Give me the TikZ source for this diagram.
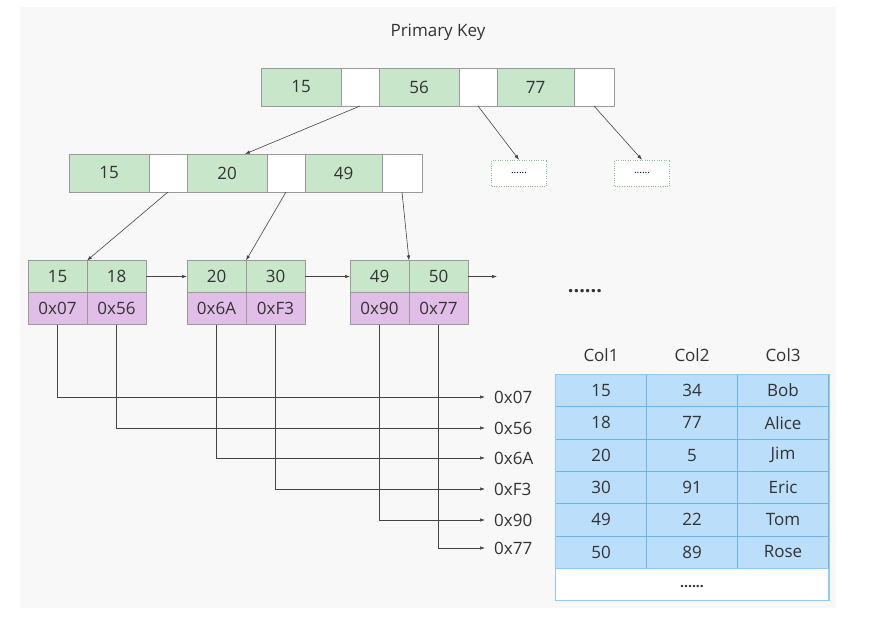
\documentclass[tikz,border=0pt]{standalone}
\usepackage{fontspec}
\setmainfont{Open Sans}
\usetikzlibrary{positioning}
\usetikzlibrary{arrows.meta}
\definecolor{bgray}{HTML}{F8F8F8}
\definecolor{keygreen}{HTML}{C8E6C9}
\definecolor{addrpink}{HTML}{E1BEE7}
\definecolor{rowblue}{HTML}{BBDEFB}
\definecolor{rowline}{HTML}{6FB3EC}
\definecolor{tabline}{HTML}{90CAF9}
\definecolor{cellgray}{HTML}{9A9A9A}
\definecolor{moregreen}{HTML}{8DBE8D}
\definecolor{linegray}{HTML}{444444}
\definecolor{txt}{HTML}{333333}
\tikzset{
  cell/.style={draw=cellgray, inner sep=0pt, outer sep=0pt, text=txt, minimum height=38pt},
  keycell/.style={cell, fill=keygreen, minimum width=80pt},
  ptrcell/.style={cell, fill=white, minimum width=38pt},
  leafkey/.style={cell, fill=keygreen, minimum width=59pt, minimum height=32pt},
  leafaddr/.style={cell, fill=addrpink, minimum width=59pt, minimum height=32pt},
  morebox/.style={draw=moregreen, dotted, fill=white, minimum width=55pt, minimum height=26pt, font=\fontsize{10}{11}\selectfont},
  rowcell/.style={draw=rowline, fill=rowblue, inner sep=0pt, outer sep=0pt, text=txt, minimum width=91pt, minimum height=32.3pt},
  link/.style={draw=linegray, line width=0.6pt, -{Latex[length=5pt,width=3.5pt]}},
  reflink/.style={link, shorten >=9pt},
  reflabel/.style={anchor=west, inner sep=0pt, text=txt},
}
\begin{document}
\begin{tikzpicture}[x=1pt,y=-1pt]\fontsize{17}{20}\selectfont
  \useasboundingbox (0,0) rectangle (888,621);
  \fill[bgray] (20,7) rectangle (836,608);
  \node[text=txt] (title) at (438,32) {Primary Key};
  \node[keycell] (root15) at (301,87) {15};
  \node[ptrcell, right=0pt of root15] (root15p) {};
  \node[keycell, right=0pt of root15p] (root56) {56};
  \node[ptrcell, right=0pt of root56] (root56p) {};
  \node[keycell, minimum width=77pt, right=0pt of root56p] (root77) {77};
  \node[ptrcell, minimum width=40pt, right=0pt of root77] (root77p) {};
  \node[keycell] (mid15) at (109,173) {15};
  \node[ptrcell, right=0pt of mid15] (mid15p) {};
  \node[keycell, right=0pt of mid15p] (mid20) {20};
  \node[ptrcell, right=0pt of mid20] (mid20p) {};
  \node[keycell, minimum width=77pt, right=0pt of mid20p] (mid49) {49};
  \node[ptrcell, minimum width=40pt, right=0pt of mid49] (mid49p) {};
  \node[morebox] (more1) at (519,173) {......};
  \node[morebox] (more2) at (642,173) {......};
  \node[leafkey] (leaf15) at (57.5,276.5) {15};
  \node[leafkey, right=0pt of leaf15] (leaf18) {18};
  \node[leafaddr, below=0pt of leaf15] (addr07) {0x07};
  \node[leafaddr, below=0pt of leaf18] (addr56) {0x56};
  \node[leafkey] (leaf20) at (216.5,276.5) {20};
  \node[leafkey, right=0pt of leaf20] (leaf30) {30};
  \node[leafaddr, below=0pt of leaf20] (addr6A) {0x6A};
  \node[leafaddr, below=0pt of leaf30] (addrF3) {0xF3};
  \node[leafkey] (leaf49) at (379.5,276.5) {49};
  \node[leafkey, right=0pt of leaf49] (leaf50) {50};
  \node[leafaddr, below=0pt of leaf49] (addr90) {0x90};
  \node[leafaddr, below=0pt of leaf50] (addr77) {0x77};
  \coordinate (nextleaf) at (497,276.5);
  \node[text=txt, font=\fontsize{20}{22}\selectfont] (moreleaf) at (585,291) {\textbf{......}};
  \draw[link] (root15p.south) -- ([xshift=18pt]mid20.north);
  \draw[link] (root56p.south) -- (more1.north);
  \draw[link] (root77p.south) -- (more2.north);
  \draw[link] (mid15p.south) -- (leaf15.north east);
  \draw[link] (mid20p.south) -- (leaf20.north east);
  \draw[link] (mid49p.south) -- (leaf49.north east);
  \draw[link] (leaf18.east) -- (leaf20.west);
  \draw[link] (leaf30.east) -- (leaf49.west);
  \draw[link] (leaf50.east) -- (nextleaf);
  \node[reflabel] (ref07) at (494,397) {0x07};
  \node[reflabel] (ref56) at (494,428) {0x56};
  \node[reflabel] (ref6A) at (494,458) {0x6A};
  \node[reflabel] (refF3) at (494,489) {0xF3};
  \node[reflabel] (ref90) at (494,520) {0x90};
  \node[reflabel] (ref77) at (494,548) {0x77};
  \draw[reflink] (addr07.south) |- (ref07.west);
  \draw[reflink] (addr56.south) |- (ref56.west);
  \draw[reflink] (addr6A.south) |- (ref6A.west);
  \draw[reflink] (addrF3.south) |- (refF3.west);
  \draw[reflink] (addr90.south) |- (ref90.west);
  \draw[reflink] (addr77.south) |- (ref77.west);
  \node[text=txt] (col1) at (601,355) {Col1};
  \node[text=txt] (col2) at (692,355) {Col2};
  \node[text=txt] (col3) at (783,355) {Col3};
  \foreach \a/\b/\c [count=\i] in {15/34/Bob, 18/77/Alice, 20/5/Jim, 30/91/Eric, 49/22/Tom, 50/89/Rose}{
    \node[rowcell] (row\i a) at (601,{374.3+32.3*\i-16.15}) {\a};
    \node[rowcell, right=0pt of row\i a] (row\i b) {\b};
    \node[rowcell, right=0pt of row\i b] (row\i c) {\c};
  }
  \node[draw=tabline, fill=white, minimum width=273pt, minimum height=32.3pt, inner sep=0pt, text=txt] (rowmore) at (692,583.9) {\fontsize{14}{15}\selectfont\raisebox{-4pt}[0pt][0pt]{\textbf{......}}};
  \draw[tabline] (row1a.north west) rectangle (rowmore.south east);
\end{tikzpicture}
\end{document}
